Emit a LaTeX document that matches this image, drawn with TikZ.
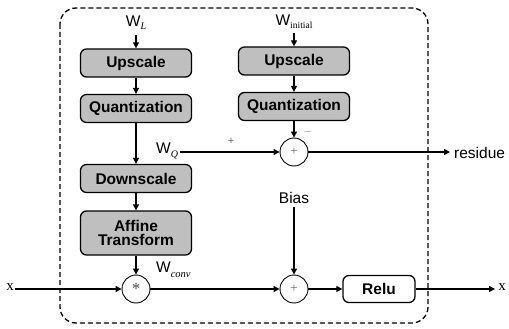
\documentclass[tikz,border=0pt]{standalone}
\usepackage{fontspec}
\setmainfont{Liberation Serif}
\setsansfont{Liberation Sans}
\usetikzlibrary{arrows.meta}
\tikzset{
  blk/.style={draw, line width=1.3pt, rounded corners=6pt, fill=black!25, font=\sffamily\bfseries\fontsize{15.5}{16}\selectfont, minimum width=111pt, minimum height=28pt, inner sep=1pt, align=center},
  wblk/.style={blk, fill=white, minimum width=72pt, minimum height=27pt},
  opc/.style={draw, circle, line width=0.9pt, minimum size=28pt, inner sep=0pt, font=\fontsize{13}{13}\selectfont},
  lbl/.style={font=\sffamily\fontsize{15.5}{16}\selectfont, inner sep=1pt},
  sml/.style={font=\sffamily\fontsize{11}{11}\selectfont, text=black!60, inner sep=0pt},
  arr/.style={-{Triangle[length=6pt,width=6pt]}, line width=1.2pt},
  ln/.style={line width=1.2pt}
}
\begin{document}
\begin{tikzpicture}[x=1pt,y=-1pt]
\useasboundingbox (0,0) rectangle (509,329);
\draw[line width=1.3pt, dash pattern=on 5pt off 3pt, rounded corners=16pt] (60,8) rectangle (428,323);

\node[blk] (up1) at (136,63) {Upscale};
\node[blk] (q1) at (136,108.5) {Quantization};
\node[blk] (down) at (136,178.5) {Downscale};
\node[blk, minimum height=44pt] (aff) at (136,233) {Affine\\[-2pt]Transform};
\node[opc, text=black!70] (star) at (136,289) {\raisebox{-5pt}{\fontsize{17}{17}\selectfont *}};

\node[blk] (up2) at (294,61) {Upscale};
\node[blk] (q2) at (294,106.5) {Quantization};
\node[opc, text=black!60] (plus1) at (294,152) {+};
\node[opc, text=black!60] (plus2) at (294,289) {+};
\node[wblk] (relu) at (379,289) {Relu};

\node[lbl] (wl) at (136,23) {W\raisebox{-3pt}{\rmfamily\itshape\fontsize{10}{10}\selectfont L}};
\node[lbl] (wi) at (294,22) {W\raisebox{-3pt}{\rmfamily\fontsize{9.5}{10}\selectfont initial}};
\node[lbl, anchor=west] (wq) at (155,151) {W\raisebox{-4pt}{\rmfamily\itshape\fontsize{10}{10}\selectfont Q}};
\node[lbl, anchor=west] (wc) at (155,270) {W\raisebox{-5pt}{\rmfamily\itshape\fontsize{10.5}{10}\selectfont conv}};
\node[lbl] (bias) at (294,198) {Bias};
\node[lbl, anchor=west] (res) at (453,153) {residue};
\node[font=\rmfamily\fontsize{15}{15}\selectfont, inner sep=1pt] (xin) at (10,287) {x};
\node[font=\rmfamily\fontsize{15}{15}\selectfont, inner sep=1pt] (xout) at (502,287) {x};
\node[sml] (pl) at (231,141) {+};
\node[sml] (mi) at (308,132) {$-$};

\draw[arr] (wl.south) ++(0,4) -- (up1.north);
\draw[arr] (up1) -- (q1);
\draw[arr] (q1) -- (down);
\draw[arr] (down) -- (aff);
\draw[arr] (aff) -- (star);

\draw[arr] (wi.south) ++(0,3) -- (up2.north);
\draw[arr] (up2) -- (q2);
\draw[arr] (q2) -- (plus1);
\draw[arr] (wq.east |- plus1) ++(1,0) -- (plus1.west);
\draw[arr] (plus1) -- ([xshift=-3pt]res.west |- plus1);

\draw[arr] (bias.south) ++(0,2) -- (plus2.north);
\draw[arr] (xin.east |- star) -- (star.west);
\draw[arr] (star) -- (plus2);
\draw[arr] (plus2) -- (relu);
\draw[arr] (relu) -- ([xshift=-2pt]xout.west |- relu);
\end{tikzpicture}
\end{document}
